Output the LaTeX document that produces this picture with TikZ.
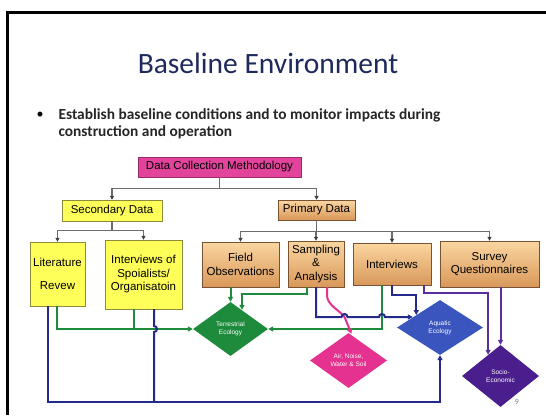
\documentclass[tikz,border=0pt]{standalone}
\usepackage{fontspec}
\setmainfont{Carlito}
\newfontfamily\arialfont{Liberation Sans}
\usepackage{tikz}
\usetikzlibrary{arrows.meta,positioning,shapes.geometric,calc}

\definecolor{titlenavy}{HTML}{1F2A5C}
\definecolor{magfill}{HTML}{E2449C}
\definecolor{magline}{HTML}{9A2A6A}
\definecolor{yelfill}{HTML}{FFFF5A}
\definecolor{yelline}{HTML}{8C8C3A}
\definecolor{otop}{HTML}{FAD6A0}
\definecolor{obot}{HTML}{D9985A}
\definecolor{oline}{HTML}{7A5232}
\definecolor{ecogreen}{HTML}{1E8A3C}
\definecolor{aquablue}{HTML}{3A56BE}
\definecolor{navyline}{HTML}{232A8C}
\definecolor{sociopurple}{HTML}{4A1E8C}
\definecolor{purpline}{HTML}{5A2E9E}
\definecolor{airpink}{HTML}{E5318F}

\begin{document}
\begin{tikzpicture}[x=1pt,y=-1pt,
  every node/.style={font=\arialfont\fontsize{11.5}{13.5}\selectfont},
  mbox/.style={draw=magline,fill=magfill,inner sep=0pt,align=center},
  ybox/.style={draw=yelline,fill=yelfill,inner sep=0pt,align=center},
  obox/.style={draw=oline,top color=otop,bottom color=obot,inner sep=0pt,align=center},
  eco/.style={diamond,inner sep=0pt,text=white,align=center,
    font=\arialfont\fontsize{6.5}{8}\selectfont},
  tree/.style={draw=gray!85!black,line width=1.1pt,
    -{Triangle[length=4pt,width=4pt,color=black!75]}},
  grn/.style={draw=ecogreen,line width=2pt,-{Triangle[length=5pt,width=5pt]}},
  grnl/.style={draw=ecogreen,line width=2pt},
  nvy/.style={draw=navyline,line width=2pt,-{Triangle[length=5pt,width=5pt]}},
  nvyl/.style={draw=navyline,line width=2pt},
  prp/.style={draw=purpline,line width=2pt,-{Triangle[length=5pt,width=5pt]}},
  pnk/.style={draw=airpink,line width=2pt,-{Triangle[length=5pt,width=5pt]}}]
  \useasboundingbox (0,0) rectangle (546,415);
  \fill[white] (0,0) rectangle (546,415);
  \draw[line width=3pt] (7,415) -- (7,12) -- (546,12);

  % heading
  \node[font=\fontsize{29.5}{34}\selectfont,text=titlenavy] (title) at (268,63) {Baseline Environment};
  \node[font=\bfseries\fontsize{15.4}{17}\selectfont,text=black!85,anchor=north west,align=left]
    (aim) at (55,105) {Establish baseline conditions and to monitor impacts during\\construction and operation};
  \node[font=\fontsize{14}{17}\selectfont] (dot) at (40,115) {\textbullet};

  % boxes
  \node[mbox,minimum width=163pt,minimum height=20pt] (dcm) at (219.5,167) {Data Collection Methodology};
  \node[ybox,minimum width=100pt,minimum height=21pt] (sec) at (112,210.5) {Secondary Data};
  \node[obox,minimum width=77pt,minimum height=20pt] (prim) at (316.5,210) {Primary Data};
  \node[ybox,minimum width=55pt,minimum height=64pt] (lit) at (57.5,274) {Literature\\[10pt]Revew};
  \node[ybox,minimum width=77pt,minimum height=69pt] (spec) at (143.5,274.5) {Interviews of\\Spoialists/\\Organisatoin};
  \node[obox,minimum width=77pt,minimum height=45pt] (field) at (240.5,264.5) {Field\\Observations};
  \node[obox,minimum width=56pt,minimum height=46pt] (samp) at (316,264) {Sampling\\\&\\Analysis};
  \node[obox,minimum width=78pt,minimum height=42pt] (intv) at (392,264) {Interviews};
  \node[obox,minimum width=99pt,minimum height=46pt] (survey) at (489.5,264) {Survey\\Questionnaires};

  % receptors
  \node[eco,fill=ecogreen,minimum width=75pt,minimum height=54pt] (terr) at (230.5,329) {Terrestrial\\Ecology};
  \node[eco,fill=airpink,minimum width=77pt,minimum height=55pt] (air) at (348.5,360.5) {Air, Noise,\\Water \& Soil};
  \node[eco,fill=aquablue,minimum width=86pt,minimum height=55pt] (aqua) at (440,327.5) {Aquatic\\Ecology};
  \node[eco,fill=sociopurple,minimum width=77pt,minimum height=62pt] (socio) at (500.5,376) {Socio-\\Economic};

  \node[font=\fontsize{8}{9}\selectfont,text=gray] (page) at (517,402) {9};

  % hierarchy
  \draw[tree] (dcm.south) -- ++(0,11) -| (sec.north);
  \draw[tree] (dcm.south) -- ++(0,11) -| (prim.north);
  \draw[tree] (sec.south) -- ++(0,9) -| (lit.north);
  \draw[tree] (sec.south) -- ++(0,9) -| (spec.north);
  \foreach \t in {field,samp,intv,survey}
    \draw[tree] (prim.south) -- ++(0,11) -| (\t.north);

  % terrestrial
  \draw[grn] (field.south -| terr.north) -- (terr.north);
  \draw[grn] ([xshift=-9pt]samp.south) -- ++(0,7) -| ($(terr.north)+(11.5,8)$);
  \draw[grn] ([xshift=-0.5pt]lit.south) |- (terr.west);
  \draw[grnl] ([xshift=-10pt]spec.south) -- ($(spec.south |- terr.west)+(-10,0)$);
  \draw[grn] ([xshift=-10pt]intv.south) |- (terr.east);

  % air
  \draw[pnk] ([xshift=11pt]samp.south) -- ++(0,8) .. controls +(0,10) and +(-4,-6) .. (344.5,317)
    -- ($(air.north)+(3,1)$);

  % aquatic
  \coordinate (aqin) at ($(aqua.west)+(16,-10.5)$);
  \draw[nvy] (samp.south) |- (341.5,317) arc[start angle=180,end angle=360,radius=3]
    -- (379,317) arc[start angle=180,end angle=360,radius=3] -- (aqin);
  \draw[nvy] (intv.south) -- ++(0,10) -| ($(aqua.north)!0.55!(aqua.west)$);
  \draw[nvy] ([xshift=-10pt]lit.south) -- ++(0,96) -| (aqua.south);
  \draw[nvyl] ([xshift=10.5pt]spec.south) -- ($(spec.south |- terr.west)+(10.5,-3)$)
    arc[start angle=270,end angle=450,radius=3] -- ++(0,70);

  % socio-economic
  \draw[prp] ([xshift=32pt]intv.south) -- ++(0,8) -| ($(socio.north)!0.32!(socio.west)$);
  \draw[prp] (survey.south -| socio.north) -- (socio.north);
\end{tikzpicture}
\end{document}
